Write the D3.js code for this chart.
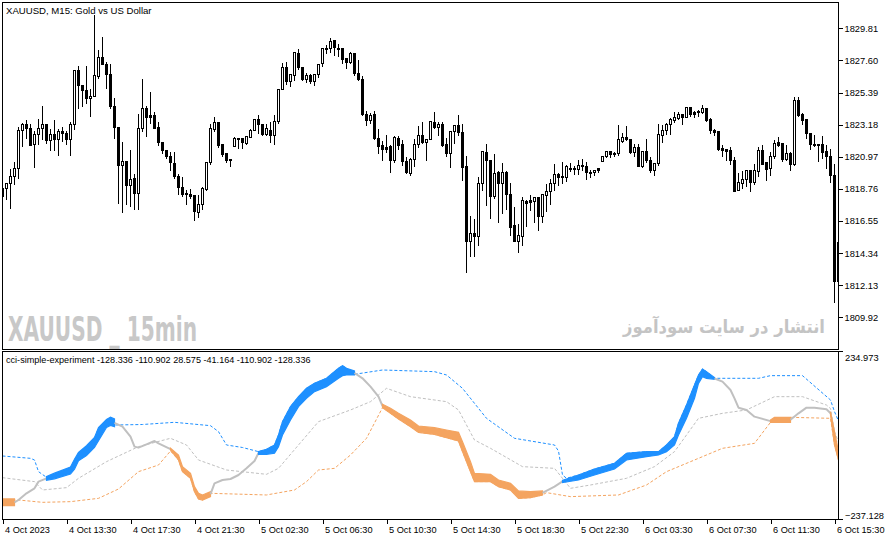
<!DOCTYPE html>
<html><head><meta charset="utf-8">
<script src="https://cdn.jsdelivr.net/npm/d3@7"></script>
<style>
html,body{margin:0;padding:0;background:#fff;}
svg{display:block;}
</style></head><body>
<svg id="c" width="892" height="541"></svg>
<script>
// ---------------- DATA ----------------
const chartTitle = "XAUUSD, M15:  Gold vs US Dollar";
const indicatorTitle = "cci-simple-experiment -128.336 -110.902 28.575 -41.164 -110.902 -128.336";
const watermarkLeft = "XAUUSD _ 15min";
const watermarkRight = "انتشار در سایت سودآموز";

const candleOpen = [
1818.80,1818.80,1819.10,1819.60,1820.17,1822.81,1823.16,1822.93,1821.78,1822.47,
1822.93,1823.16,1822.06,1822.52,1822.13,1822.74,1822.58,1822.17,1823.16,1826.88,
1825.84,1825.56,1824.99,1825.10,1826.48,1827.82,1827.33,1826.65,1824.42,1822.97,
1820.35,1820.67,1818.98,1819.44,1818.45,1822.88,1824.30,1823.78,1823.78,1822.97,
1821.96,1821.43,1821.02,1820.51,1819.64,1818.87,1818.45,1818.40,1818.27,1817.15,
1817.65,1818.75,1820.56,1822.86,1823.34,1821.78,1821.16,1820.79,1821.66,1822.20,
1822.20,1821.89,1822.31,1822.77,1823.55,1823.20,1822.47,1822.81,1822.42,1823.43,
1825.63,1827.13,1826.14,1826.55,1828.09,1827.13,1826.32,1826.53,1826.14,1826.65,
1827.40,1828.39,1828.39,1828.94,1828.41,1828.39,1827.70,1827.45,1828.05,1826.71,
1826.32,1823.89,1823.46,1823.85,1822.24,1821.71,1821.59,1821.66,1820.70,1822.26,
1821.78,1820.67,1819.83,1820.79,1821.82,1822.40,1821.96,1822.17,1823.34,1822.97,
1823.22,1821.78,1821.20,1822.74,1823.09,1822.65,1820.33,1815.13,1815.70,1815.47,
1819.10,1821.27,1820.74,1818.22,1819.87,1819.14,1819.90,1818.40,1816.21,1815.13,
1815.47,1817.88,1817.93,1817.88,1818.18,1816.85,1818.29,1818.57,1819.14,1819.78,
1819.55,1819.55,1820.17,1820.12,1820.10,1820.40,1820.33,1819.90,1819.87,1820.17,
1820.67,1820.97,1821.32,1821.20,1821.16,1822.01,1822.31,1822.13,1821.25,1821.62,
1820.33,1821.36,1820.74,1820.03,1820.51,1822.42,1822.77,1823.16,1823.46,1823.57,
1823.85,1823.66,1824.35,1824.01,1824.05,1824.03,1824.30,1823.50,1822.81,1822.70,
1821.55,1821.48,1821.43,1820.74,1818.64,1819.10,1819.37,1819.99,1819.19,1819.94,
1821.43,1820.56,1820.17,1820.97,1821.96,1821.85,1820.81,1821.20,1820.47,1824.81,
1823.85,1823.50,1822.58,1821.78,1821.78,1821.82,1821.32,1821.02,1819.71,1812.38];

const candleHigh = [
1819.14,1819.19,1820.17,1820.63,1823.04,1823.32,1823.50,1823.27,1822.81,1823.62,
1824.53,1823.27,1822.93,1823.50,1822.93,1823.04,1822.77,1823.39,1826.99,1827.22,
1825.91,1827.22,1825.68,1830.79,1828.32,1829.28,1827.52,1827.40,1825.06,1823.04,
1822.01,1820.74,1821.48,1819.83,1823.96,1826.37,1824.53,1825.45,1824.08,1823.39,
1822.01,1821.48,1821.32,1821.36,1819.83,1819.64,1818.75,1818.80,1818.34,1818.34,
1818.91,1820.63,1823.27,1823.73,1823.39,1821.89,1821.25,1820.81,1822.35,1822.29,
1822.29,1822.40,1822.93,1823.57,1823.91,1823.27,1823.27,1823.43,1823.91,1825.68,
1827.45,1827.52,1826.71,1828.21,1828.44,1827.17,1826.78,1826.71,1826.71,1827.40,
1828.48,1828.71,1829.19,1828.94,1828.78,1828.39,1827.79,1828.21,1828.05,1827.63,
1826.55,1824.14,1824.03,1824.12,1822.88,1822.08,1822.47,1821.78,1822.40,1822.42,
1822.13,1820.97,1820.90,1822.20,1823.11,1823.39,1822.24,1823.43,1824.08,1823.43,
1823.43,1822.29,1822.77,1823.16,1823.91,1823.27,1821.09,1816.90,1816.69,1819.60,
1821.39,1821.89,1820.79,1821.16,1820.05,1820.58,1819.99,1819.19,1817.58,1816.35,
1818.22,1818.04,1818.40,1818.22,1818.22,1818.38,1819.10,1819.49,1820.51,1819.90,
1820.67,1820.47,1820.58,1820.40,1820.81,1820.86,1820.67,1820.12,1820.12,1820.17,
1821.09,1821.36,1821.39,1821.32,1823.22,1822.65,1823.09,1822.24,1821.89,1821.89,
1821.43,1822.20,1820.97,1820.56,1823.27,1823.16,1823.32,1823.69,1824.08,1824.08,
1823.96,1824.42,1824.42,1824.12,1824.19,1824.60,1824.35,1823.66,1822.93,1822.74,
1821.82,1821.48,1821.66,1820.97,1819.90,1820.05,1820.12,1820.12,1820.51,1821.66,
1821.78,1820.63,1821.32,1822.13,1822.35,1821.89,1821.78,1821.32,1825.15,1825.15,
1824.03,1823.55,1822.63,1822.52,1821.82,1822.40,1821.78,1821.55,1820.51,1816.05];

const candleLow = [
1818.11,1818.04,1817.42,1819.03,1819.49,1821.66,1822.24,1821.73,1820.24,1821.78,
1822.13,1821.89,1821.43,1821.43,1821.04,1822.01,1821.78,1821.09,1822.86,1824.30,
1824.42,1824.64,1823.73,1825.10,1826.37,1827.29,1825.68,1824.30,1822.24,1817.76,
1817.15,1817.65,1817.54,1817.35,1817.35,1822.70,1822.35,1823.27,1822.88,1821.73,
1821.20,1820.86,1820.05,1819.49,1818.34,1818.22,1817.65,1818.11,1816.58,1816.81,
1817.37,1818.64,1820.47,1822.70,1821.59,1820.97,1820.56,1820.28,1821.66,1821.55,
1821.55,1821.78,1822.29,1822.77,1822.54,1822.40,1822.40,1821.94,1821.78,1823.27,
1825.61,1825.91,1825.79,1826.20,1826.99,1826.25,1826.07,1825.98,1825.84,1826.41,
1827.17,1828.05,1828.16,1827.93,1827.86,1827.40,1827.06,1827.40,1826.55,1826.25,
1823.78,1823.11,1823.27,1822.13,1821.20,1820.74,1821.25,1819.87,1820.58,1821.48,
1820.35,1819.83,1819.71,1820.28,1821.62,1821.89,1820.70,1822.13,1822.88,1822.40,
1821.66,1820.97,1820.24,1821.89,1822.40,1819.32,1812.99,1814.09,1814.09,1814.85,
1818.68,1817.60,1816.69,1818.11,1816.44,1817.08,1817.35,1815.54,1815.13,1814.37,
1814.85,1816.16,1817.26,1816.44,1815.89,1816.44,1817.20,1817.65,1818.68,1818.98,
1819.14,1819.26,1819.94,1819.76,1819.76,1820.05,1819.37,1819.55,1819.71,1819.87,
1820.63,1820.93,1820.93,1820.97,1821.09,1821.94,1822.08,1821.16,1820.97,1820.28,
1820.24,1820.56,1819.87,1819.67,1820.35,1821.94,1822.47,1822.47,1823.32,1823.50,
1823.22,1823.66,1823.73,1823.69,1823.73,1823.96,1823.39,1822.58,1822.42,1821.43,
1820.97,1820.70,1820.47,1818.57,1818.64,1818.80,1818.91,1818.57,1819.03,1819.60,
1820.47,1819.32,1819.67,1820.86,1821.66,1820.63,1820.74,1820.01,1820.40,1823.73,
1823.16,1822.20,1821.50,1821.66,1820.63,1820.86,1820.17,1819.19,1810.95,1810.47];

const candleClose = [
1818.22,1819.10,1819.64,1820.17,1822.81,1823.16,1822.93,1821.73,1822.52,1822.93,
1823.16,1822.06,1822.52,1822.13,1822.74,1822.58,1822.13,1823.16,1826.88,1825.84,
1825.52,1824.99,1825.15,1826.53,1827.82,1827.33,1826.65,1824.42,1822.97,1820.35,
1820.67,1818.98,1819.42,1818.45,1822.88,1824.30,1823.69,1823.66,1822.93,1821.94,
1821.39,1820.97,1820.56,1819.60,1818.87,1818.38,1818.38,1818.22,1817.20,1817.65,
1818.80,1820.58,1822.88,1823.34,1821.71,1821.13,1820.70,1820.77,1822.20,1822.22,
1821.94,1822.35,1822.81,1823.55,1823.20,1822.47,1822.88,1822.42,1823.43,1825.63,
1827.13,1826.14,1826.60,1828.14,1827.13,1826.32,1826.53,1826.14,1826.65,1827.33,
1828.44,1828.41,1828.89,1828.48,1828.44,1827.68,1827.47,1828.05,1826.71,1826.30,
1823.85,1823.46,1823.82,1822.20,1821.66,1821.48,1821.48,1820.70,1822.29,1821.73,
1820.63,1819.87,1820.81,1821.82,1822.40,1821.94,1822.17,1823.39,1822.97,1823.22,
1821.73,1821.20,1822.74,1823.09,1822.63,1820.22,1815.13,1815.70,1815.47,1819.10,
1821.32,1820.70,1818.22,1819.83,1819.14,1819.90,1818.38,1816.12,1815.13,1815.58,
1817.93,1817.76,1817.81,1818.18,1816.85,1818.34,1818.61,1819.14,1819.78,1819.53,
1819.58,1820.28,1820.19,1820.14,1820.40,1820.38,1819.87,1819.92,1820.05,1820.05,
1821.02,1821.32,1821.13,1821.18,1822.13,1822.31,1822.13,1821.25,1821.62,1820.33,
1821.36,1820.70,1820.03,1820.51,1822.47,1822.81,1823.16,1823.50,1823.66,1823.85,
1823.66,1824.35,1823.89,1823.89,1824.08,1824.30,1823.46,1822.77,1822.65,1821.50,
1821.39,1821.32,1820.70,1818.61,1819.21,1819.42,1819.99,1819.21,1819.99,1821.43,
1820.47,1820.12,1821.02,1821.89,1821.73,1820.81,1821.20,1820.47,1824.81,1823.78,
1823.46,1822.54,1821.78,1821.80,1821.75,1821.27,1820.97,1819.67,1812.38,1815.08];

const priceTicks = [1829.81,1827.60,1825.39,1823.18,1820.97,1818.76,1816.55,1814.34,1812.13,1809.92];
const timeTickIdx = [0,16,32,48,64,80,96,112,128,144,160,176,192,208];
const timeLabels = ["4 Oct 2023","4 Oct 13:30","4 Oct 17:30","4 Oct 21:30","5 Oct 02:30","5 Oct 06:30",
  "5 Oct 10:30","5 Oct 14:30","5 Oct 18:30","5 Oct 22:30","6 Oct 03:30","6 Oct 07:30","6 Oct 11:30","6 Oct 15:30"];
const cciRange = [-237.128, 234.973];

// CCI band: bar index, upper edge, lower edge, state of following segment (1 up/blue, -1 down/orange, 0 neutral/gray)
const cciIndex = [0,3,4,6,8,9,11,13,17,18,19,21,23,24,26,27,28,30,32,33,34,36,38,39,42,44,45,47,48,49,50,52,53,55,57,59,61,63,
  64,66,68,69,70,72,74,76,78,81,84,85,86,88,90,92,94,95,97,99,102,104,108,111,114,115,117,118,122,124,127,129,132,135,138,
  140,144,148,153,156,161,164,166,168,169,171,173,174,175,176,178,180,182,183,184,186,188,192,193,197,199,201,203,206,207,208,209];
const cciTop = [-180.5,-180.5,-183.4,-164.5,-150.4,-131.5,-117.0,-107.5,-90.0,-68.0,-49.0,-30.0,-6.5,21.5,44.0,50.5,45.6,23.9,-4.3,-32.6,-35.4,-26.0,-16.6,-23.2,
  -37.0,-56.2,-89.1,-108.0,-145.7,-164.5,-169.2,-159.8,-136.3,-126.8,-124.0,-112.7,-93.9,-73.1,
  -46.7,-40.1,-27.9,0.4,38.1,80.5,108.7,132.3,146.4,160.6,188.8,196.4,188.8,181.3,160.6,137.0,108.7,87.1,75.8,61.6,42.8,25.8,21.1,14.5,7.9,-18.5,-75.0,-108.0,-110.8,-126.8,-136.3,-157.9,-159.8,-157.9,-145.7,
  -128.0,-112.7,-95.7,-79.7,-51.4,-46.7,-46.7,-27.9,-4.3,33.4,85.2,141.7,170.0,187.0,179.4,162.5,151.1,127.6,104.0,77.6,71.1,52.2,42.8,50.3,50.3,61.6,77.6,77.6,72.9,66.3,9.8,-46.7];
const cciBot = [-199.4,-199.4,-183.4,-164.5,-150.4,-131.5,-127.5,-123.5,-110.0,-96.0,-72.5,-58.0,-35.0,-16.0,22.0,27.5,23.9,23.9,-4.3,-32.6,-35.4,-26.0,-16.6,-23.2,
  -42.0,-70.3,-103.3,-122.1,-159.8,-180.5,-183.4,-173.9,-136.3,-126.8,-124.0,-112.7,-93.9,-73.1,
  -54.3,-54.3,-51.4,-32.6,0.4,42.8,80.5,104.0,122.9,137.0,160.6,168.1,170.0,170.0,160.6,137.0,108.7,77.6,61.6,45.6,23.9,7.9,2.3,-7.2,-16.6,-46.7,-103.3,-131.5,-131.5,-145.7,-155.1,-178.7,-176.8,-169.2,-145.7,
  -134.0,-126.8,-112.7,-95.7,-70.3,-60.9,-56.2,-46.7,-27.9,0.4,47.5,104.0,146.4,165.3,160.6,157.7,151.1,127.6,104.0,77.6,71.1,52.2,36.2,36.2,36.2,61.6,77.6,77.6,72.9,56.9,-27.9,-70.3];
const cciState = [-1,0,0,0,0,0,1,1,1,1,1,1,1,1,1,1,0,0,0,0,0,0,0,0,-1,-1,-1,-1,-1,-1,-1,0,0,0,0,0,0,0,
  1,1,1,1,1,1,1,1,1,1,1,1,1,0,0,0,0,-1,-1,-1,-1,-1,-1,-1,-1,-1,-1,-1,-1,-1,-1,-1,-1,0,0,
  1,1,1,1,1,1,1,1,1,1,1,1,1,1,1,0,0,0,0,0,0,0,-1,-1,0,0,0,0,0,-1,-1,-1];

// channel levels of the CCI (dashed)
const upperIndex = [0,7,8,9,11,13,17,18,19,21,23,24,26,27,28,35,43,52,54,56,60,64,66,68,69,70,72,74,76,78,81,84,85,86,88,95,108,111,115,121,128,138,139,140,141,
  144,148,153,156,161,164,166,168,169,171,173,174,175,176,178,189,192,200,207,208,209];
const upperVal = [-59.0,-65.6,-70.3,-103.3,-119.3,-110.8,-92.0,-70.3,-51.4,-32.6,-9.0,19.2,42.8,49.4,28.6,30.0,36.2,26.7,9.8,-27.9,-35.0,-46.7,-40.1,-27.9,0.4,38.1,80.5,108.7,132.3,146.4,160.6,188.8,196.4,188.8,171.9,184.1,179.4,170.0,132.3,47.5,-9.0,-27.9,-45.0,-112.7,-122.0,
  -112.7,-95.7,-79.7,-51.4,-46.7,-46.7,-27.9,-4.3,33.4,85.2,141.7,170.0,187.0,179.4,160.6,160.6,168.1,168.1,99.3,66.3,40.0];
const midIndex = [0,8,10,16,19,26,34,42,46,49,56,66,69,74,79,87,92,96,102,111,114,118,122,130,138,142,147,156,163,168,174,180,186,193,200,206,207,208,209];
const midVal = [-120.3,-131.5,-155.1,-148.5,-122.1,-75.0,-32.6,-9.0,-27.9,-70.3,-98.6,-110.8,-93.9,-27.9,38.1,71.1,94.6,132.3,108.7,94.6,71.1,-13.8,-37.3,-89.1,-93.9,-150.4,-141.0,-122.1,-89.1,-46.7,47.5,61.6,71.1,108.7,108.7,85.0,75.0,9.8,-20.0];
const lowerIndex = [0,4,10,17,24,29,34,39,42,44,45,47,48,49,50,52,66,73,76,79,83,87,91,95,97,99,102,104,108,111,114,115,117,118,122,124,127,129,132,135,136,142,154,161,166,173,180,188,192,197,207,208,209];
const lowerVal = [-186.2,-183.4,-190.0,-188.1,-178.7,-152.3,-103.3,-84.5,-45.0,-70.3,-103.3,-122.1,-159.8,-180.5,-183.4,-164.5,-169.2,-155.1,-131.5,-98.6,-93.9,-56.2,-9.0,77.6,61.6,45.6,23.9,7.9,2.3,-7.2,-16.6,-46.7,-103.3,-131.5,-131.5,-145.7,-155.1,-178.7,-176.8,-169.2,-162.6,-173.9,-169.2,-141.0,-103.3,-70.3,-37.3,-23.2,36.2,50.3,47.5,-27.9,-70.3];

// ---------------- DRAW ----------------
const svg = d3.select("#c");
const FONT = "'Liberation Sans', Arial, sans-serif";
const nBars = candleOpen.length;
const xIdx = d3.scaleLinear().domain([0, nBars - 1]).range([2.5, 838.5]);
const yP = d3.scaleLinear().domain([1809.92, 1829.81]).range([317.3, 28.3]);
const yC = d3.scaleLinear().domain(cciRange).range([519, 352]);
const snap = v => Math.round(v - 0.5) + 0.5;

svg.append("rect").attr("width", 892).attr("height", 541).attr("fill", "#fff");

svg.append("defs").call(d => {
  d.append("clipPath").attr("id", "mainClip").append("rect").attr("x", 2).attr("y", 3).attr("width", 837).attr("height", 346);
  d.append("clipPath").attr("id", "indClip").append("rect").attr("x", 3).attr("y", 352).attr("width", 836).attr("height", 167);
});

// watermarks
svg.append("text").attr("x", 8).attr("y", 340.5).attr("textLength", 189).attr("lengthAdjust", "spacingAndGlyphs")
  .style("font-family", "'Liberation Sans Narrow','DejaVu Sans Condensed','Liberation Sans',sans-serif")
  .style("font-weight", "bold").style("font-size", "34px").attr("fill", "#c8c8c8").text(watermarkLeft);
svg.append("text").attr("x", 825).attr("y", 333).attr("text-anchor", "end")
  .attr("textLength", 202).attr("lengthAdjust", "spacingAndGlyphs")
  .style("font-family", "'DejaVu Sans',sans-serif").style("font-weight", "bold").style("font-size", "18px")
  .attr("fill", "#c4c4c4").text(watermarkRight);

// candles
const candles = d3.range(nBars).map(i => ({i, o: candleOpen[i], h: candleHigh[i], l: candleLow[i], c: candleClose[i]}));
const gC = svg.append("g").attr("clip-path", "url(#mainClip)").attr("shape-rendering", "crispEdges");
gC.selectAll("line.w").data(candles).join("line")
  .attr("x1", d => xIdx(d.i)).attr("x2", d => xIdx(d.i))
  .attr("y1", d => snap(yP(d.h))).attr("y2", d => snap(yP(d.l)) + 0.5)
  .attr("stroke", "#000").attr("stroke-width", 1);
gC.selectAll("rect.b").data(candles).join("rect")
  .attr("x", d => xIdx(d.i) - 1).attr("width", 2)
  .attr("y", d => snap(yP(Math.max(d.o, d.c))))
  .attr("height", d => Math.max(1, snap(yP(Math.min(d.o, d.c))) - snap(yP(Math.max(d.o, d.c)))))
  .attr("fill", d => d.c >= d.o ? "#fff" : "#000").attr("stroke", "#000").attr("stroke-width", 1);

// indicator levels (dashed)
const gI = svg.append("g").attr("clip-path", "url(#indClip)");
function dashed(idx, vals, color) {
  const pts = idx.map((d, k) => [xIdx(d), yC(vals[k])]);
  gI.append("path").attr("d", d3.line()(pts)).attr("fill", "none").attr("stroke", color)
    .attr("stroke-width", 1).attr("stroke-dasharray", "3,2");
}
dashed(midIndex, midVal, "#c0c0c0");
dashed(lowerIndex, lowerVal, "#f4a460");
dashed(upperIndex, upperVal, "#1e90ff");

// CCI band
const pts = cciIndex.map((d, k) => ({i: d, top: cciTop[k], bot: cciBot[k], s: cciState[k]}));
const area = d3.area().x(d => xIdx(d.i)).y0(d => yC(d.bot)).y1(d => yC(d.top));
const line = d3.line().x(d => xIdx(d.i)).y(d => yC((d.top + d.bot) / 2));
let k = 0;
while (k < pts.length - 1) {
  const s = pts[k].s;
  let j = k;
  while (j < pts.length - 1 && pts[j].s === s) j++;
  const run = pts.slice(k, j + 1);
  if (s === 0) {
    gI.append("path").attr("d", line(run)).attr("fill", "none").attr("stroke", "#c0c0c0")
      .attr("stroke-width", 2).attr("stroke-linejoin", "round");
  } else {
    const col = s > 0 ? "#1e90ff" : "#f4a460";
    gI.append("path").attr("d", area(run)).attr("fill", col).attr("stroke", col).attr("stroke-width", 1.2);
  }
  k = j;
}

// frames
svg.append("rect").attr("x", 2.5).attr("y", 2.5).attr("width", 836).attr("height", 347)
  .attr("fill", "none").attr("stroke", "#000").attr("shape-rendering", "crispEdges");
svg.append("rect").attr("x", 2.5).attr("y", 351.5).attr("width", 836).attr("height", 168)
  .attr("fill", "none").attr("stroke", "#000").attr("shape-rendering", "crispEdges");

// price axis
const axP = svg.append("g").attr("transform", "translate(838.5,0)")
  .call(d3.axisRight(yP).tickValues(priceTicks).tickSize(4).tickPadding(2).tickFormat(d3.format(".2f")));
axP.select(".domain").remove();
axP.selectAll("text").style("font-family", FONT).style("font-size", "9.3px").attr("fill", "#000");
axP.selectAll("line").attr("stroke", "#000").attr("shape-rendering", "crispEdges");

// indicator axis
const indLabels = [{v: cciRange[1], ty: 351.5, ly: 360.5}, {v: cciRange[0], ty: 519.5, ly: 518.5}];
indLabels.forEach(d => {
  svg.append("line").attr("x1", 838.5).attr("x2", 843).attr("y1", d.ty).attr("y2", d.ty)
    .attr("stroke", "#000").attr("shape-rendering", "crispEdges");
  svg.append("text").attr("x", 845).attr("y", d.ly).style("font-family", FONT).style("font-size", "9.3px")
    .text(d3.format(".3f")(d.v));
});

// time axis
const axT = svg.append("g").attr("transform", "translate(0,519.5)")
  .call(d3.axisBottom(xIdx).tickValues(timeTickIdx).tickSize(4).tickPadding(3).tickFormat((d, i) => timeLabels[i]));
axT.select(".domain").remove();
axT.selectAll("line").attr("stroke", "#000").attr("shape-rendering", "crispEdges");
axT.selectAll("text").attr("text-anchor", "start").attr("x", 2)
  .style("font-family", FONT).style("font-size", "9.2px").attr("fill", "#000");

// titles
svg.append("text").attr("x", 6).attr("y", 13.5).style("font-family", FONT).style("font-size", "9.6px").text(chartTitle);
svg.append("text").attr("x", 6).attr("y", 362.5).style("font-family", FONT).style("font-size", "9.1px").text(indicatorTitle);
</script>
</body></html>
